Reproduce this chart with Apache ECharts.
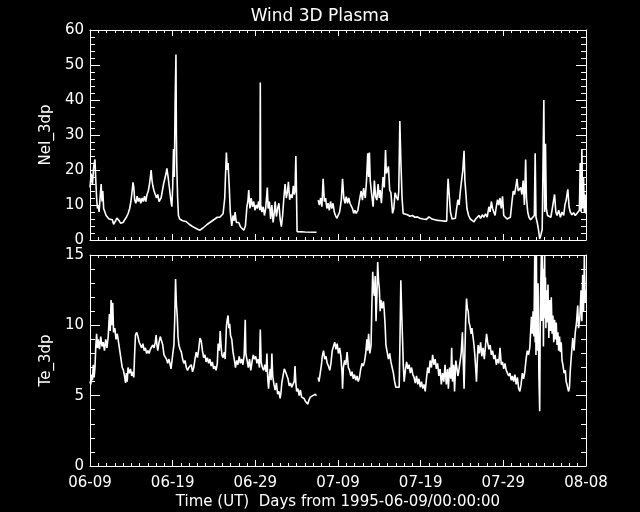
<!DOCTYPE html>
<html>
<head>
<meta charset="utf-8">
<script src="https://cdn.jsdelivr.net/npm/echarts@6/dist/echarts.min.js"></script>
<style>
  html, body { margin: 0; padding: 0; background: #000; }
  #chart { width: 640px; height: 512px; }
</style>
</head>
<body>
<div id="chart"></div>
<script>
// days from 1995-06-09 -> tick labels
var xTickLabels = ['06-09', '06-19', '06-29', '07-09', '07-19', '07-29', '08-08']

// NeI_3dp samples: [day, value], null = data gap
var neSamples = [
  [0.0, 15], [0.15, 19], [0.3, 16], [0.45, 21], [0.6, 23], [0.7, 17], [0.8, 12], [0.9, 9], [1.0, 10], [1.1, 8],
  [1.25, 13], [1.35, 16], [1.45, 11], [1.55, 14], [1.65, 9], [1.8, 8], [1.95, 7], [2.1, 6.5], [2.3, 6], [2.5, 5.5],
  [2.7, 5.8], [2.85, 4.5], [3.0, 4.3], [3.1, 5.5], [3.25, 6.3], [3.4, 6], [3.55, 5.4], [3.7, 4.8], [3.85, 4.4], [4.0, 5],
  [4.2, 5.8], [4.4, 6.5], [4.6, 7.5], [4.8, 9], [4.95, 11], [5.1, 14], [5.2, 16.5], [5.3, 15], [5.4, 11.5], [5.55, 10.5],
  [5.7, 12.5], [5.85, 11], [6.0, 12], [6.15, 10.5], [6.3, 12], [6.45, 11], [6.6, 12.5], [6.75, 11], [6.9, 13], [7.05, 14],
  [7.2, 16], [7.3, 18], [7.4, 20], [7.5, 17], [7.6, 15.5], [7.75, 14], [7.9, 13.5], [8.05, 12], [8.2, 13], [8.35, 11],
  [8.5, 10.5], [8.6, 12], [8.75, 14], [8.9, 16], [9.05, 17.5], [9.2, 19], [9.3, 20.5], [9.45, 18], [9.6, 15], [9.7, 14.5],
  [9.8, 11], [9.9, 9.5], [10.0, 15], [10.1, 26], [10.2, 18], [10.3, 40], [10.4, 53], [10.45, 30], [10.5, 21], [10.6, 12],
  [10.7, 7], [10.85, 6], [11.0, 5.8], [11.2, 5.5], [11.4, 5], [11.6, 5.3], [11.8, 4.8], [12.0, 4.5], [12.3, 4], [12.6, 3.6],
  [12.9, 3.2], [13.1, 3], [13.3, 2.8], [13.5, 3.2], [13.7, 3.5], [13.9, 4], [14.2, 4.5], [14.5, 5], [14.8, 5.5], [15.1, 6],
  [15.4, 6.5], [15.7, 6.5], [15.9, 6.3], [16.1, 7.5], [16.3, 12], [16.4, 19], [16.5, 25], [16.6, 20], [16.7, 22], [16.85, 15],
  [16.97, 8], [17.15, 4], [17.3, 7], [17.45, 5.5], [17.55, 8], [17.7, 5], [17.85, 4.5], [18.0, 5], [18.2, 3.8], [18.4, 3.5],
  [18.6, 2.8], [18.8, 4], [18.98, 9.5], [19.1, 11], [19.2, 14.3], [19.35, 9], [19.5, 12], [19.65, 9.5], [19.8, 11], [19.95, 8.5],
  [20.1, 10], [20.25, 9], [20.4, 11], [20.55, 8.5], [20.6, 45], [20.65, 10], [20.8, 8], [20.95, 9.5], [21.1, 7], [21.25, 9],
  [21.45, 15], [21.55, 9], [21.7, 11], [21.85, 6], [22.0, 10], [22.15, 5], [22.3, 8], [22.4, 11], [22.55, 6.7], [22.7, 9],
  [22.85, 10.5], [23.0, 6], [23.15, 3.8], [23.3, 7], [23.45, 12], [23.6, 16], [23.75, 12], [23.9, 14], [24.0, 16.6], [24.15, 11.5],
  [24.3, 13], [24.45, 12], [24.6, 15.5], [24.7, 13], [24.8, 14], [24.9, 24], [24.95, 18], [25.05, 2.4], [26.0, 2.3], [27.4, 2.2],
  [27.5, null],
  [27.6, 11.4], [27.75, 10], [27.9, 12], [28.05, 9.5], [28.2, 17.5], [28.35, 11], [28.5, 12], [28.65, 9], [28.8, 10.5], [28.95, 8.5],
  [29.1, 11], [29.25, 9], [29.4, 10.5], [29.55, 8], [29.7, 7], [29.85, 6.2], [30.0, 5.7], [30.2, 8], [30.4, 11.4], [30.55, 17.5],
  [30.7, 12], [30.85, 10.5], [31.0, 12.4], [31.15, 10.5], [31.3, 12], [31.45, 10.5], [31.6, 11], [31.75, 9], [31.9, 7.6], [32.05, 8.5],
  [32.2, 7.6], [32.4, 8.5], [32.6, 11.4], [32.8, 14], [32.95, 11.4], [33.1, 14.8], [33.3, 12], [33.45, 17], [33.6, 24.8], [33.7, 18],
  [33.8, 25], [33.9, 17], [34.05, 13.5], [34.25, 9.5], [34.4, 17], [34.55, 12.4], [34.7, 11.4], [34.85, 16], [35.0, 12], [35.1, 14.3],
  [35.25, 10.5], [35.45, 18], [35.6, 15], [35.75, 25.7], [35.85, 19], [36.0, 20], [36.1, 21], [36.25, 14.3], [36.4, 13.5], [36.6, 7.6],
  [36.75, 9], [36.9, 13.5], [37.05, 12.4], [37.25, 11.4], [37.35, 14], [37.48, 34], [37.6, 22.9], [37.75, 12], [37.88, 7.6], [38.1, 7.4],
  [38.4, 7.2], [38.7, 6.8], [39.0, 7], [39.3, 6.5], [39.6, 6.6], [39.9, 6.2], [40.3, 6], [40.7, 5.9], [41.0, 6.6], [41.3, 6.1],
  [41.7, 5.8], [42.1, 5.6], [42.5, 5.5], [42.9, 5.4], [43.15, 5.4], [43.25, 14], [43.32, 17.5], [43.45, 13], [43.6, 8], [43.8, 6],
  [44.0, 5.5], [44.2, 6.2], [44.35, 9], [44.5, 11.5], [44.65, 10], [44.8, 14], [44.95, 17], [45.1, 20], [45.25, 25.5], [45.35, 17],
  [45.45, 14], [45.6, 9], [45.8, 7], [46.0, 6], [46.2, 5.5], [46.45, 5.2], [46.65, 6], [46.85, 6.5], [47.05, 7], [47.25, 6.2],
  [47.45, 7.2], [47.65, 6.5], [47.85, 7.5], [48.05, 6.5], [48.25, 9.5], [48.4, 8], [48.55, 11], [48.7, 9], [48.85, 8.5], [49.0, 7],
  [49.15, 9.5], [49.3, 11.5], [49.45, 10], [49.6, 12], [49.75, 9], [49.9, 12.5], [50.05, 7], [50.25, 6.5], [50.45, 6], [50.65, 5.8],
  [50.85, 6.5], [51.05, 11], [51.2, 14], [51.35, 13], [51.5, 15], [51.65, 17.5], [51.8, 14], [51.95, 13.5], [52.1, 15], [52.25, 13],
  [52.4, 17], [52.55, 10], [52.7, 23], [52.8, 12], [52.95, 8], [53.1, 6.5], [53.3, 5.8], [53.5, 5.5], [53.75, 7], [53.85, 24.8],
  [53.95, 6.5], [54.1, 5], [54.25, 3], [54.4, 0.3], [54.55, 1.5], [54.7, 3], [54.9, 40], [55.0, 8], [55.1, 27.5], [55.2, 9],
  [55.35, 7], [55.55, 7.5], [55.75, 6.5], [55.95, 7], [56.2, 13], [56.35, 8], [56.5, 7], [56.7, 8.5], [56.9, 6.5], [57.1, 8],
  [57.3, 7], [57.45, 10], [57.6, 11.4], [57.8, 14.5], [57.95, 9.5], [58.1, 8], [58.3, 7.2], [58.5, 7.8], [58.7, 7], [58.9, 7.6],
  [59.05, 7.2], [59.2, 8.5], [59.3, 22], [59.4, 8], [59.5, 26], [59.6, 9], [59.7, 18], [59.8, 8], [59.9, 13], [60.0, 7.5]
]

// Te_3dp samples: [day, value], null = data gap
var teSamples = [
  [0.0, 6.0], [0.1, 5.8], [0.2, 6.5], [0.3, 6.1], [0.4, 7.2], [0.5, 6.3], [0.6, 7.0], [0.7, 8.5], [0.8, 9.4], [0.9, 8.4],
  [1.0, 9.0], [1.15, 8.3], [1.3, 9.2], [1.45, 8.5], [1.6, 8.8], [1.75, 8.2], [1.9, 9.0], [2.05, 8.4], [2.2, 9.2], [2.35, 10.8],
  [2.45, 9.6], [2.55, 11.8], [2.65, 10.0], [2.75, 11.6], [2.85, 9.5], [3.0, 9.8], [3.15, 9.0], [3.3, 9.4], [3.45, 8.8], [3.6, 8.2],
  [3.75, 7.6], [3.9, 7.0], [4.05, 6.8], [4.2, 6.3], [4.3, 5.9], [4.4, 6.6], [4.5, 6.0], [4.6, 7.0], [4.75, 6.6], [4.9, 6.9],
  [5.05, 6.4], [5.2, 6.7], [5.3, 6.3], [5.4, 8.0], [5.5, 9.3], [5.65, 9.5], [5.8, 9.2], [5.95, 8.8], [6.1, 8.6], [6.25, 8.4],
  [6.4, 8.7], [6.55, 8.2], [6.7, 8.4], [6.85, 8.0], [7.0, 8.2], [7.15, 8.0], [7.3, 8.3], [7.45, 8.2], [7.6, 8.6], [7.75, 8.4],
  [7.9, 8.8], [8.0, 9.3], [8.1, 8.6], [8.2, 8.2], [8.35, 8.8], [8.5, 9.2], [8.65, 8.9], [8.8, 8.6], [8.95, 7.9], [9.1, 8.0],
  [9.25, 7.6], [9.4, 7.3], [9.55, 7.6], [9.7, 7.2], [9.8, 6.9], [9.9, 7.4], [10.0, 7.9], [10.15, 8.6], [10.25, 10.5], [10.35, 13.3],
  [10.45, 11.5], [10.55, 10.7], [10.65, 9.2], [10.75, 8.6], [10.9, 8.3], [11.05, 8.1], [11.2, 7.6], [11.35, 7.3], [11.5, 7.5], [11.65, 7.0],
  [11.8, 6.8], [11.95, 7.0], [12.1, 6.9], [12.25, 7.2], [12.4, 6.7], [12.55, 7.0], [12.7, 7.6], [12.85, 8.1], [13.0, 7.7], [13.15, 8.3],
  [13.3, 9.1], [13.45, 8.9], [13.6, 8.2], [13.75, 7.7], [13.9, 7.9], [14.05, 7.4], [14.2, 7.7], [14.35, 7.3], [14.5, 7.6], [14.65, 7.1],
  [14.8, 7.4], [14.95, 6.9], [15.1, 7.1], [15.25, 6.8], [15.4, 7.3], [15.5, 8.7], [15.65, 8.2], [15.75, 9.6], [15.85, 8.6], [15.95, 7.9],
  [16.1, 7.7], [16.25, 8.1], [16.35, 7.6], [16.5, 9.9], [16.6, 10.4], [16.7, 10.7], [16.8, 9.8], [16.9, 10.1], [17.0, 9.3], [17.15, 9.0],
  [17.3, 8.1], [17.45, 7.6], [17.6, 7.0], [17.75, 7.5], [17.9, 7.2], [18.05, 7.8], [18.2, 7.3], [18.35, 7.6], [18.5, 7.2], [18.65, 7.9],
  [18.78, 10.4], [18.85, 8.0], [19.0, 7.5], [19.15, 7.0], [19.3, 7.6], [19.45, 6.8], [19.6, 7.4], [19.75, 7.9], [19.9, 7.6], [20.05, 7.8],
  [20.2, 7.3], [20.35, 7.6], [20.5, 7.0], [20.6, 9.7], [20.7, 7.4], [20.85, 7.0], [21.0, 6.8], [21.15, 7.2], [21.3, 6.7], [21.4, 8.0],
  [21.5, 6.2], [21.6, 5.5], [21.7, 6.4], [21.8, 6.9], [21.9, 6.1], [22.0, 8.0], [22.1, 6.4], [22.25, 5.8], [22.4, 5.4], [22.55, 5.9],
  [22.7, 5.1], [22.85, 5.3], [23.0, 4.8], [23.1, 5.2], [23.2, 5.9], [23.35, 6.4], [23.5, 6.9], [23.65, 6.7], [23.8, 6.8], [23.95, 6.2],
  [24.1, 5.7], [24.25, 5.9], [24.4, 5.6], [24.55, 5.8], [24.7, 6.0], [24.8, 7.1], [24.9, 5.9], [25.0, 5.3], [25.15, 5.5], [25.3, 5.0],
  [25.45, 5.4], [25.6, 4.9], [25.75, 5.0], [25.9, 4.8], [26.05, 4.6], [26.2, 4.7], [26.35, 4.4], [26.5, 4.7], [26.65, 4.9], [26.8, 4.8],
  [26.95, 5.0], [27.1, 4.9], [27.25, 5.1], [27.4, 5.0],
  [27.5, null],
  [27.6, 6.3], [27.7, 6.0], [27.85, 6.6], [28.0, 7.2], [28.1, 7.8], [28.25, 8.2], [28.4, 7.6], [28.55, 7.8], [28.7, 7.3], [28.85, 7.1],
  [29.0, 6.8], [29.15, 7.3], [29.3, 8.2], [29.45, 8.5], [29.6, 8.8], [29.75, 8.3], [29.9, 8.7], [30.05, 8.0], [30.2, 8.4], [30.35, 7.8],
  [30.5, 6.5], [30.55, 5.5], [30.65, 7.0], [30.8, 7.5], [30.95, 7.2], [31.1, 8.1], [31.25, 7.0], [31.4, 6.8], [31.55, 6.4], [31.7, 6.7],
  [31.85, 6.2], [32.0, 6.5], [32.15, 6.1], [32.3, 6.4], [32.45, 6.0], [32.6, 6.3], [32.75, 6.9], [32.9, 7.3], [33.05, 7.1], [33.2, 7.4],
  [33.35, 8.0], [33.5, 9.0], [33.6, 8.2], [33.7, 9.4], [33.85, 8.0], [34.0, 8.6], [34.1, 11.5], [34.2, 13.8], [34.3, 12.5], [34.4, 12.1],
  [34.5, 13.5], [34.6, 10.3], [34.7, 12.0], [34.8, 14.5], [34.9, 13.2], [35.0, 12.6], [35.1, 11.0], [35.2, 11.8], [35.35, 11.2], [35.5, 11.7],
  [35.6, 11.0], [35.7, 10.0], [35.8, 8.6], [35.95, 8.1], [36.1, 7.6], [36.25, 8.0], [36.4, 7.4], [36.55, 7.0], [36.7, 6.6], [36.85, 6.0],
  [37.0, 5.6], [37.2, 5.7], [37.4, 5.6], [37.5, 9.0], [37.6, 13.2], [37.7, 11.0], [37.8, 9.1], [37.9, 7.2], [38.0, 6.0], [38.15, 6.8],
  [38.3, 7.4], [38.45, 6.9], [38.6, 7.2], [38.75, 6.6], [38.9, 7.0], [39.05, 6.5], [39.2, 6.3], [39.35, 5.9], [39.5, 6.4], [39.65, 5.8],
  [39.8, 6.2], [39.95, 5.6], [40.1, 6.0], [40.25, 5.5], [40.4, 5.8], [40.55, 5.3], [40.7, 6.2], [40.85, 7.0], [41.0, 6.6], [41.15, 7.5],
  [41.3, 7.0], [41.45, 7.9], [41.6, 7.2], [41.75, 7.6], [41.9, 6.9], [42.05, 7.3], [42.2, 6.4], [42.35, 6.9], [42.5, 5.8], [42.65, 6.6],
  [42.8, 6.0], [42.95, 7.2], [43.1, 5.8], [43.25, 6.9], [43.35, 5.5], [43.5, 7.0], [43.65, 6.2], [43.75, 8.4], [43.85, 6.0], [44.0, 7.2],
  [44.1, 5.3], [44.25, 7.5], [44.4, 6.9], [44.5, 6.4], [44.6, 6.7], [44.75, 6.7], [44.9, 8.0], [45.05, 9.5], [45.15, 7.5], [45.25, 5.5],
  [45.35, 8.0], [45.45, 10.5], [45.55, 11.9], [45.65, 11.2], [45.75, 11.0], [45.85, 10.2], [45.95, 10.0], [46.1, 9.4], [46.2, 9.8], [46.35, 9.1],
  [46.45, 8.6], [46.55, 7.9], [46.65, 7.0], [46.75, 6.0], [46.85, 7.5], [46.95, 8.6], [47.1, 8.0], [47.25, 8.8], [47.4, 7.8], [47.55, 8.4],
  [47.7, 7.6], [47.85, 8.6], [47.97, 9.4], [48.1, 8.8], [48.25, 8.3], [48.4, 8.6], [48.55, 7.9], [48.7, 8.2], [48.85, 7.6], [49.0, 7.9],
  [49.15, 7.2], [49.3, 7.6], [49.45, 7.3], [49.6, 8.4], [49.75, 7.2], [49.9, 7.4], [50.05, 6.9], [50.2, 7.3], [50.35, 6.8], [50.5, 6.9],
  [50.65, 6.4], [50.8, 6.6], [50.95, 6.1], [51.1, 6.4], [51.25, 6.0], [51.4, 6.5], [51.55, 5.8], [51.7, 6.3], [51.85, 5.5], [52.0, 5.3],
  [52.15, 5.8], [52.3, 6.6], [52.45, 6.2], [52.6, 6.7], [52.75, 7.6], [52.9, 8.2], [53.05, 7.9], [53.2, 8.4], [53.3, 9.5], [53.4, 10.6],
  [53.5, 9.4], [53.6, 11.0], [53.7, 9.2], [53.8, 15.0], [53.85, 8.8], [53.9, 12.5], [53.95, 7.9], [54.0, 15.0], [54.05, 9.6], [54.1, 11.8],
  [54.15, 8.2], [54.2, 13.0], [54.3, 6.5], [54.4, 3.9], [54.45, 9.0], [54.5, 12.0], [54.6, 15.0], [54.65, 10.3], [54.7, 15.0], [54.75, 11.0],
  [54.8, 14.0], [54.85, 8.5], [54.9, 12.8], [55.0, 15.0], [55.05, 10.5], [55.1, 13.4], [55.15, 9.8], [55.2, 12.5], [55.3, 10.2], [55.4, 12.9],
  [55.5, 9.1], [55.6, 11.8], [55.7, 9.6], [55.8, 12.0], [55.9, 9.4], [56.0, 10.7], [56.1, 8.8], [56.2, 10.4], [56.3, 9.0], [56.4, 10.2],
  [56.5, 8.6], [56.6, 9.5], [56.7, 8.2], [56.8, 9.2], [56.9, 8.1], [57.0, 8.8], [57.1, 7.5], [57.2, 7.2], [57.35, 6.6], [57.5, 6.8],
  [57.6, 6.0], [57.7, 5.8], [57.8, 5.5], [57.9, 5.3], [58.0, 5.6], [58.1, 6.8], [58.25, 8.0], [58.4, 9.1], [58.55, 8.2], [58.7, 9.5],
  [58.85, 10.2], [59.0, 11.4], [59.1, 9.8], [59.25, 10.5], [59.4, 12.5], [59.5, 10.3], [59.6, 13.6], [59.7, 11.0], [59.8, 15.0], [59.9, 11.6],
  [60.0, 12.5]
]

var fg = '#ffffff'
var labelFont = 15

// common x axis (days)
function xAxisOf(gridIndex, position, showLabel) {
  return {
    type: 'value', gridIndex: gridIndex, position: position,
    min: 0, max: 60, interval: 10,
    axisLine: { show: true, onZero: false, lineStyle: { color: fg, width: 1 } },
    axisTick: { show: true, inside: true, length: 6, lineStyle: { color: fg } },
    minorTick: { show: true, splitNumber: 10, length: 3, lineStyle: { color: fg } },
    axisLabel: {
      show: showLabel, color: fg, fontSize: labelFont, margin: 10,
      formatter: function (v) { return xTickLabels[Math.round(v / 10)] }
    },
    splitLine: { show: false },
    name: showLabel ? 'Time (UT)  Days from 1995-06-09/00:00:00' : '',
    nameLocation: 'middle', nameGap: 29,
    nameTextStyle: { color: fg, fontSize: labelFont }
  }
}

// common y axis
function yAxisOf(gridIndex, position, max, interval, name) {
  var left = position === 'left'
  return {
    type: 'value', gridIndex: gridIndex, position: position,
    min: 0, max: max, interval: interval,
    axisLine: { show: true, onZero: false, lineStyle: { color: fg, width: 1 } },
    axisTick: { show: true, inside: true, length: 10, lineStyle: { color: fg } },
    minorTick: { show: true, splitNumber: 5, length: 5, lineStyle: { color: fg } },
    axisLabel: { show: left, color: fg, fontSize: labelFont, margin: 6 },
    splitLine: { show: false },
    name: left ? name : '',
    nameLocation: 'middle', nameGap: 31,
    nameTextStyle: { color: fg, fontSize: labelFont }
  }
}

var option = {
  backgroundColor: '#000000',
  animation: false,
  textStyle: { fontFamily: 'DejaVu Sans' },
  title: {
    text: 'Wind 3D Plasma', left: 'center', top: 3,
    textStyle: { color: fg, fontSize: 17, fontWeight: 'normal' }
  },
  grid: [
    { left: 90, right: 54, top: 30, height: 210 },
    { left: 90, right: 54, top: 255, height: 211 }
  ],
  xAxis: [
    xAxisOf(0, 'bottom', false),
    xAxisOf(0, 'top', false),
    xAxisOf(1, 'bottom', true),
    xAxisOf(1, 'top', false)
  ],
  yAxis: [
    yAxisOf(0, 'left', 60, 10, 'NeI_3dp'),
    yAxisOf(0, 'right', 60, 10, ''),
    yAxisOf(1, 'left', 15, 5, 'Te_3dp'),
    yAxisOf(1, 'right', 15, 5, '')
  ],
  series: [
    {
      name: 'NeI_3dp', type: 'line', xAxisIndex: 0, yAxisIndex: 0,
      data: neSamples, showSymbol: false, connectNulls: false,
      lineStyle: { color: fg, width: 1.6 }
    },
    {
      name: 'Te_3dp', type: 'line', xAxisIndex: 2, yAxisIndex: 2,
      data: teSamples, showSymbol: false, connectNulls: false,
      lineStyle: { color: fg, width: 1.6 }
    }
  ]
}

var chart = echarts.init(document.getElementById('chart'))
chart.setOption(option)
</script>
</body>
</html>
